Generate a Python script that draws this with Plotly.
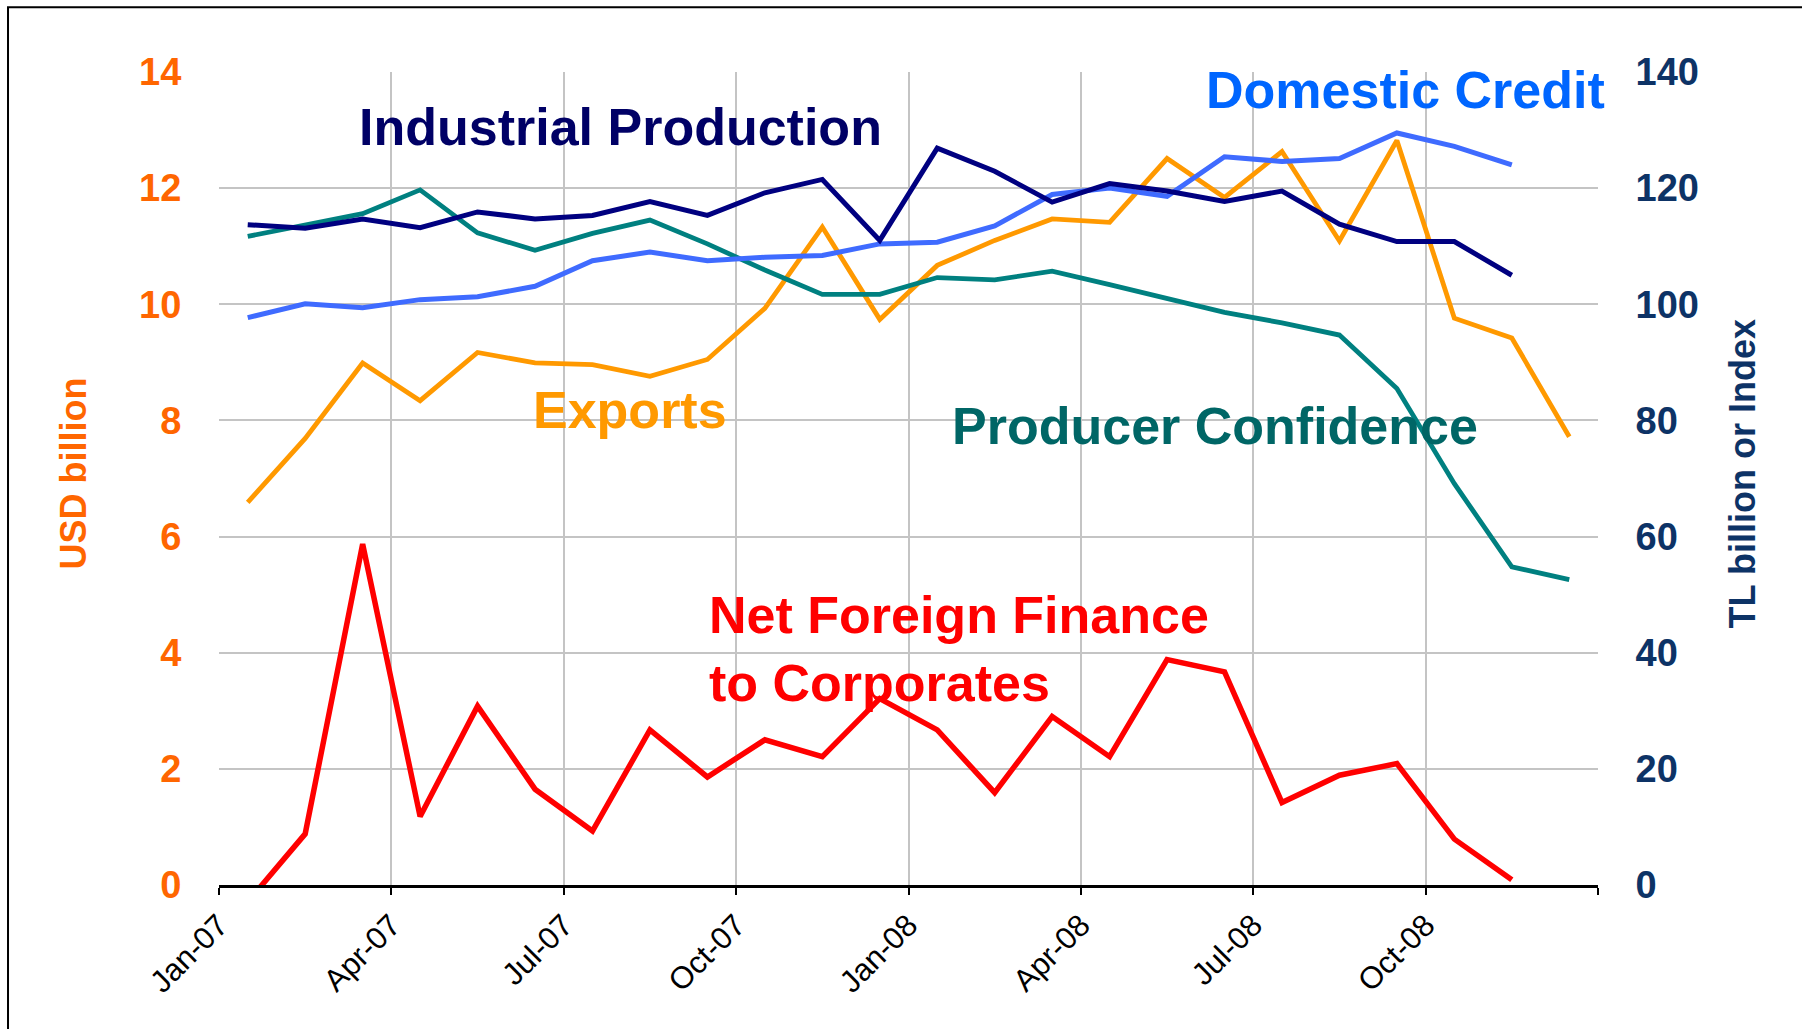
import plotly.graph_objects as go

# ---- data ----
months = ["Jan-07", "Feb-07", "Mar-07", "Apr-07", "May-07", "Jun-07", "Jul-07", "Aug-07",
          "Sep-07", "Oct-07", "Nov-07", "Dec-07", "Jan-08", "Feb-08", "Mar-08", "Apr-08",
          "May-08", "Jun-08", "Jul-08", "Aug-08", "Sep-08", "Oct-08", "Nov-08", "Dec-08"]
tick_labels = ["Jan-07", "Apr-07", "Jul-07", "Oct-07", "Jan-08", "Apr-08", "Jul-08", "Oct-08", ""]

exports = [6.59, 7.69, 8.99, 8.34, 9.17, 8.99, 8.96, 8.76, 9.05, 9.93, 11.33, 9.74,
           10.67, 11.10, 11.47, 11.41, 12.51, 11.84, 12.63, 11.09, 12.82, 9.76, 9.42, 7.72]
net_foreign_finance = [-0.29, 0.88, 5.87, 1.18, 3.08, 1.65, 0.93, 2.67, 1.86, 2.50, 2.21, 3.21,
                       2.67, 1.59, 2.90, 2.21, 3.88, 3.67, 1.42, 1.89, 2.09, 0.79, 0.09, None]
industrial_production = [113.7, 113.1, 114.7, 113.2, 115.9, 114.7, 115.3, 117.7, 115.3, 119.2, 121.5, 111.0,
                         126.9, 122.9, 117.6, 120.8, 119.5, 117.7, 119.5, 113.8, 110.8, 110.8, 105.0, None]
domestic_credit = [97.7, 100.1, 99.4, 100.8, 101.3, 103.1, 107.5, 109.0, 107.5, 108.1, 108.4, 110.4,
                   110.7, 113.5, 118.9, 120.0, 118.6, 125.4, 124.6, 125.1, 129.5, 127.2, 124.0, None]
producer_confidence = [111.7, 113.7, 115.6, 119.7, 112.3, 109.3, 112.2, 114.5, 110.4, 105.9, 101.7, 101.7,
                       104.6, 104.2, 105.7, 103.4, 101.0, 98.6, 96.8, 94.7, 85.5, 69.1, 54.8, 52.6]

# month index -> position at the middle of each month on a 0..24 axis
x_pos = [i + 0.5 for i in range(len(months))]
tick_pos = [3 * k for k in range(len(tick_labels))]

FONT = "Liberation Sans, Arial, sans-serif"

fig = go.Figure()

fig.add_trace(go.Scatter(x=x_pos, y=net_foreign_finance, mode="lines", name="Net Foreign Finance",
                         line=dict(color="#FF0000", width=5.5), text=months, yaxis="y"))
fig.add_trace(go.Scatter(x=x_pos, y=exports, mode="lines", name="Exports",
                         line=dict(color="#FF9900", width=4.8), text=months, yaxis="y"))
fig.add_trace(go.Scatter(x=x_pos, y=producer_confidence, mode="lines", name="Producer Confidence",
                         line=dict(color="#008080", width=4.8), text=months, yaxis="y2"))
fig.add_trace(go.Scatter(x=x_pos, y=domestic_credit, mode="lines", name="Domestic Credit",
                         line=dict(color="#3F6BFF", width=5), text=months, yaxis="y2"))
fig.add_trace(go.Scatter(x=x_pos, y=industrial_production, mode="lines", name="Industrial Production",
                         line=dict(color="#000080", width=5), text=months, yaxis="y2"))

fig.update_layout(
    width=1802, height=1029, autosize=False,
    margin=dict(l=219, r=204, t=72, b=144),
    paper_bgcolor="white", plot_bgcolor="white",
    showlegend=False,
    font=dict(family=FONT),
    xaxis=dict(
        range=[0, 24], tickmode="array", tickvals=tick_pos, ticktext=tick_labels,
        tickangle=-45, tickfont=dict(family=FONT, size=31, color="black"),
        ticks="outside", ticklen=7, tickwidth=2, tickcolor="black",
        showline=True, linecolor="black", linewidth=2.5,
        showgrid=True, gridcolor="#C4C4C4", gridwidth=1.5, zeroline=False,
    ),
    yaxis=dict(
        range=[0, 14], dtick=2, tick0=0,
        tickfont=dict(family=FONT, size=38, color="#FF6600", weight="bold"),
        ticks="outside", ticklen=29, tickcolor="rgba(0,0,0,0)",
        showgrid=True, gridcolor="#C4C4C4", gridwidth=1.5, zeroline=False, showline=False,
    ),
    yaxis2=dict(
        range=[0, 140], dtick=20, tick0=0, overlaying="y", side="right",
        tickfont=dict(family=FONT, size=38, color="#0D3366", weight="bold"),
        ticks="outside", ticklen=29, tickcolor="rgba(0,0,0,0)",
        showgrid=False, zeroline=False, showline=False,
    ),
)

ann_font = lambda c: dict(family=FONT, size=52, color=c, weight="bold")
fig.add_annotation(x=6.98, y=13.05, xref="x", yref="y", text="Industrial Production",
                   showarrow=False, xanchor="center", yanchor="middle", font=ann_font("#000066"))
fig.add_annotation(x=20.65, y=13.69, xref="x", yref="y", text="Domestic Credit",
                   showarrow=False, xanchor="center", yanchor="middle", font=ann_font("#0066FF"))
fig.add_annotation(x=7.15, y=8.18, xref="x", yref="y", text="Exports",
                   showarrow=False, xanchor="center", yanchor="middle", font=ann_font("#FF9900"))
fig.add_annotation(x=17.33, y=7.90, xref="x", yref="y", text="Producer Confidence",
                   showarrow=False, xanchor="center", yanchor="middle", font=ann_font("#006666"))
fig.add_annotation(x=8.50, y=4.07, xref="x", yref="y", text="Net Foreign Finance<br>to Corporates",
                   showarrow=False, xanchor="left", yanchor="middle", align="left", font=ann_font("#FF0000"))

# axis titles
fig.add_annotation(x=-0.1053, y=0.506, xref="paper", yref="paper", text="USD billion", textangle=-90,
                   showarrow=False, xanchor="center", yanchor="middle",
                   font=dict(family=FONT, size=36, color="#FF6600", weight="bold"))
fig.add_annotation(x=1.105, y=0.506, xref="paper", yref="paper", text="TL billion or Index", textangle=-90,
                   showarrow=False, xanchor="center", yanchor="middle",
                   font=dict(family=FONT, size=36, color="#0D3366", weight="bold"))

# outer frame (top and left edges visible)
fig.add_shape(type="rect", xref="paper", yref="paper", x0=-0.153, x1=1.25, y0=-0.3, y1=1.0795,
              line=dict(color="black", width=2), fillcolor="rgba(0,0,0,0)", layer="above")

fig.write_html("out.html")
